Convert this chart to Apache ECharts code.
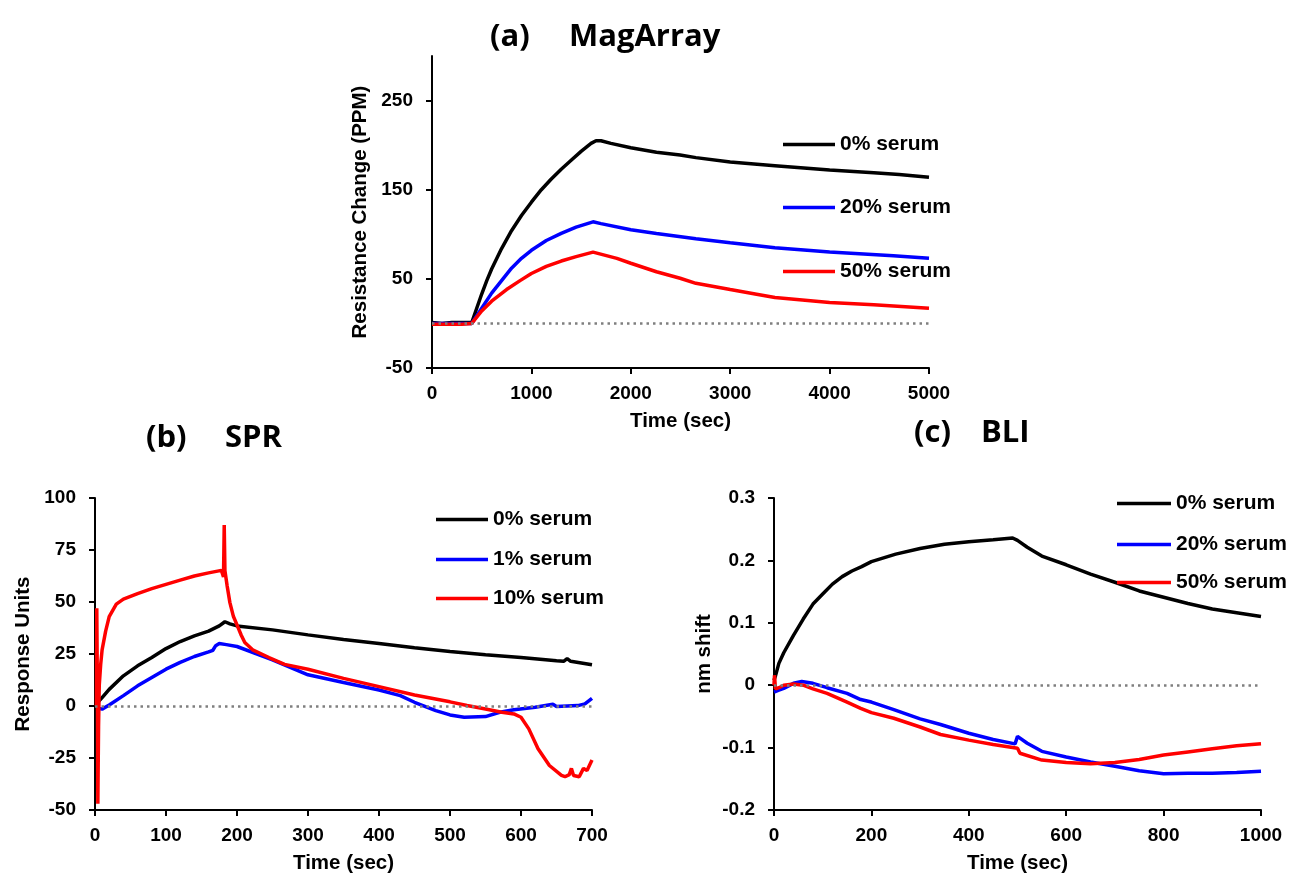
<!DOCTYPE html>
<html>
<head>
<meta charset="utf-8">
<script src="https://cdn.jsdelivr.net/npm/echarts@6.0.0/dist/echarts.min.js"></script>
<style>
html,body{margin:0;padding:0;background:#fff;}
#chart{width:1291px;height:875px;}
</style>
</head>
<body>
<div id="chart"></div>
<script>
// ---- (a) MagArray: [time (sec), resistance change (PPM)]
const magSerum0 = [[0,1],[100,0],[200,1],[300,1],[400,1],[450,17],[500,33],[551,48],[600,61],[700,84],[800,104],[900,121],[1000,136],[1100,150],[1200,162],[1300,173],[1400,183],[1500,193],[1600,202],[1650,205],[1700,205],[1800,202],[2000,197],[2258,192],[2496,189],[2655,186],[3000,181],[3450,177],[4000,172],[4444,169],[4700,167],[5000,164]];
const magSerum20 = [[0,0],[200,0],[400,0],[500,17],[600,34],[700,48],[800,62],[900,73],[1000,82],[1150,93],[1300,101],[1450,108],[1620,114],[1700,112],[2000,105],[2258,101],[2655,95],[3000,90.5],[3450,85],[4000,80],[4642,76],[5000,73]];
const magSerum50 = [[0,-1],[200,-1],[300,-1],[400,0],[500,14],[600,25],[750,38],[886,48],[1000,56],[1150,64],[1300,70],[1450,75],[1620,80],[1860,73],[2000,67.5],[2258,58],[2496,50.7],[2655,45],[3000,38],[3251,33],[3450,29],[4000,23.5],[4444,21],[5000,17]];

// ---- (b) SPR: [time (sec), response units]
const sprSerum0 = [[2,1],[10,4],[20,8],[40,14.5],[60,19.3],[80,23.3],[100,27.6],[120,31],[140,33.7],[160,36],[175,38.5],[183,40.5],[190,39.5],[200,38.5],[250,36.6],[300,34.2],[350,32],[400,30],[450,28],[500,26.2],[550,24.6],[600,23.3],[650,21.7],[660,21.5],[665,22.8],[670,21.5],[700,19.8]];
const sprSerum1 = [[3,-1],[10,-1.5],[20,0.5],[40,5],[60,9.7],[80,13.7],[100,17.7],[120,21],[140,23.8],[160,26],[166,26.8],[170,29],[175,30],[185,29.5],[200,28.6],[250,22.2],[300,15],[350,11.3],[400,7.7],[430,5],[450,1.8],[480,-2.2],[500,-4.3],[520,-5.4],[550,-5.1],[570,-3],[590,-1.8],[620,-0.6],[645,0.8],[650,-0.2],[680,0.2],[690,1],[700,3.7]];
const sprSerum10 = [[2,0],[2.5,47],[3.5,0],[4,-47],[5,-10],[6,10],[8,20],[10,27],[15,36],[20,43],[30,49],[40,51.4],[60,54],[80,56.4],[100,58.5],[120,60.5],[140,62.5],[160,64],[178,65.2],[180,65],[181,62],[182,87],[183,65],[186,58],[190,49.7],[195,43],[200,39],[206,34],[211,30.5],[222,27],[245,23.3],[267,20],[300,17.7],[350,13.3],[400,9.3],[450,5.3],[500,2],[524,0.2],[550,-1.4],[573,-3],[590,-3.8],[600,-5.4],[611,-11],[624,-20.6],[640,-28.6],[657,-33.4],[662,-34],[668,-33],[671,-30],[674,-33.4],[682,-34],[688,-30],[693,-31],[700,-26]];

// ---- (c) BLI: [time (sec), nm shift]
const bliSerum0 = [[0,0.008],[3,0.015],[10,0.035],[20,0.052],[40,0.08],[60,0.106],[80,0.13],[100,0.146],[120,0.162],[140,0.174],[160,0.183],[180,0.19],[200,0.198],[250,0.21],[300,0.219],[350,0.226],[400,0.23],[450,0.233],[490,0.236],[500,0.232],[520,0.221],[550,0.207],[600,0.193],[650,0.178],[700,0.165],[750,0.151],[800,0.141],[850,0.131],[900,0.122],[950,0.116],[1000,0.11]];
const bliSerum20 = [[0,-0.011],[3,-0.013],[10,-0.008],[20,-0.005],[40,0.003],[57,0.006],[80,0.003],[109,-0.004],[150,-0.013],[178,-0.023],[200,-0.027],[246,-0.039],[300,-0.054],[342,-0.063],[400,-0.077],[450,-0.087],[495,-0.094],[500,-0.082],[520,-0.093],[550,-0.106],[600,-0.115],[650,-0.123],[700,-0.13],[750,-0.137],[800,-0.142],[850,-0.141],[900,-0.141],[950,-0.14],[1000,-0.138]];
const bliSerum50 = [[0,0],[1,0.016],[3,-0.006],[10,-0.004],[20,0],[40,0.002],[60,0],[80,-0.006],[109,-0.013],[150,-0.027],[178,-0.037],[200,-0.044],[246,-0.053],[300,-0.067],[342,-0.079],[400,-0.088],[450,-0.095],[500,-0.101],[505,-0.109],[550,-0.12],[600,-0.124],[650,-0.126],[700,-0.124],[750,-0.119],[800,-0.112],[850,-0.107],[900,-0.102],[950,-0.097],[1000,-0.094]];

// ---- text
const panelLabels = ['(a)', '(b)', '(c)'];
const panelTitles = ['MagArray', 'SPR', 'BLI'];
const xAxisName = 'Time (sec)';
const yAxisNames = ['Resistance Change (PPM)', 'Response Units', 'nm shift'];
const magNames = ['0% serum', '20% serum', '50% serum'];
const sprNames = ['0% serum', '1% serum', '10% serum'];
const bliNames = ['0% serum', '20% serum', '50% serum'];
const magYTicks = [-50, 50, 150, 250];

const BLACK = '#000000', BLUE = '#0000ff', RED = '#ff0000';
const FONT = 'Liberation Sans, Arial, sans-serif';
const tickFont = {fontFamily: FONT, fontWeight: 'bold', fontSize: 19, color: '#000'};
const nameFont = {fontFamily: FONT, fontWeight: 'bold', fontSize: 20.5, color: '#000'};
const titleFont = {fontFamily: 'Open Sans, sans-serif', fontWeight: 'bold', fontSize: 31, color: '#000'};

function plain(v) { return String(+(+v).toFixed(1)); }

function axisCommon() {
  return {
    axisLine: {show: true, onZero: false, lineStyle: {color: '#000', width: 2}},
    axisTick: {show: true, inside: false, length: 6, lineStyle: {color: '#000', width: 2}},
    splitLine: {show: false},
    axisLabel: Object.assign({formatter: plain}, tickFont),
    nameTextStyle: nameFont
  };
}
function xAx(grid, max, interval) {
  const a = Object.assign(axisCommon(), {
    type: 'value', gridIndex: grid, min: 0, max: max, interval: interval,
    name: xAxisName, nameLocation: 'middle', nameGap: 43
  });
  a.axisLabel.margin = 16;
  return a;
}
function yAx(grid, min, max, interval, name, gap) {
  const a = Object.assign(axisCommon(), {
    type: 'value', gridIndex: grid, min: min, max: max, interval: interval,
    name: name, nameLocation: 'middle', nameGap: gap, nameRotate: 90
  });
  a.axisLabel.margin = 19;
  return a;
}

const yA = yAx(0, -50, 300, 50, yAxisNames[0], 61);
yA.axisLabel.customValues = magYTicks;
yA.axisTick.customValues = magYTicks;

const zeroLine = {
  silent: true, symbol: ['none', 'none'], label: {show: false},
  lineStyle: {type: [2.5, 4], color: '#7f7f7f', width: 2.5},
  data: [{yAxis: 0}], animation: false
};

function ser(name, data, color, xi, z, withZero) {
  const s = {
    type: 'line', name: name, data: data, xAxisIndex: xi, yAxisIndex: xi,
    showSymbol: false, symbol: 'none', z: z,
    lineStyle: {color: color, width: 3.5}, itemStyle: {color: color},
    emphasis: {disabled: true}, animation: false
  };
  if (withZero) s.markLine = zeroLine;
  return s;
}

function leg(name, left, centerY, w) {
  return {
    data: [name], left: left, top: centerY - 11, padding: 0,
    icon: 'rect', itemWidth: w, itemHeight: 3.5, selectedMode: false,
    textStyle: {fontFamily: FONT, fontWeight: 'bold', fontSize: 21, color: '#000'}
  };
}

const option = {
  backgroundColor: '#ffffff',
  animation: false,
  title: [
    {text: panelLabels[0], left: 490, top: 22, padding: 0, textStyle: titleFont},
    {text: panelTitles[0], left: 569, top: 22, padding: 0, textStyle: titleFont},
    {text: panelLabels[1], left: 146, top: 423, padding: 0, textStyle: titleFont},
    {text: panelTitles[1], left: 225, top: 423, padding: 0, textStyle: titleFont},
    {text: panelLabels[2], left: 914, top: 418, padding: 0, textStyle: titleFont},
    {text: panelTitles[2], left: 981, top: 418, padding: 0, textStyle: titleFont}
  ],
  legend: [
    leg(magNames[0], 783, 145, 52), leg(magNames[1], 783, 208, 52), leg(magNames[2], 783, 272, 52),
    leg(sprNames[0], 436, 520, 52), leg(sprNames[1], 436, 560, 52), leg(sprNames[2], 436, 599, 52),
    leg(bliNames[0], 1117, 504, 54), leg(bliNames[1], 1117, 545, 54), leg(bliNames[2], 1117, 583, 54)
  ],
  grid: [
    {left: 432, top: 56, width: 497, height: 312},
    {left: 95, top: 498, width: 497, height: 313},
    {left: 774, top: 498, width: 487, height: 313}
  ],
  xAxis: [xAx(0, 5000, 1000), xAx(1, 700, 100), xAx(2, 1000, 200)],
  yAxis: [
    yA,
    yAx(1, -50, 100, 25, yAxisNames[1], 61),
    yAx(2, -0.2, 0.3, 0.1, yAxisNames[2], 59)
  ],
  series: [
    ser(magNames[0], magSerum0, BLACK, 0, 2, true),
    ser(magNames[1], magSerum20, BLUE, 0, 3, false),
    ser(magNames[2], magSerum50, RED, 0, 4, false),
    ser(sprNames[0], sprSerum0, BLACK, 1, 2, true),
    ser(sprNames[1], sprSerum1, BLUE, 1, 3, false),
    ser(sprNames[2], sprSerum10, RED, 1, 4, false),
    ser(bliNames[0], bliSerum0, BLACK, 2, 2, true),
    ser(bliNames[1], bliSerum20, BLUE, 2, 3, false),
    ser(bliNames[2], bliSerum50, RED, 2, 4, false)
  ]
};

const chart = echarts.init(document.getElementById('chart'), null, {renderer: 'canvas'});
chart.setOption(option);
</script>
</body>
</html>
